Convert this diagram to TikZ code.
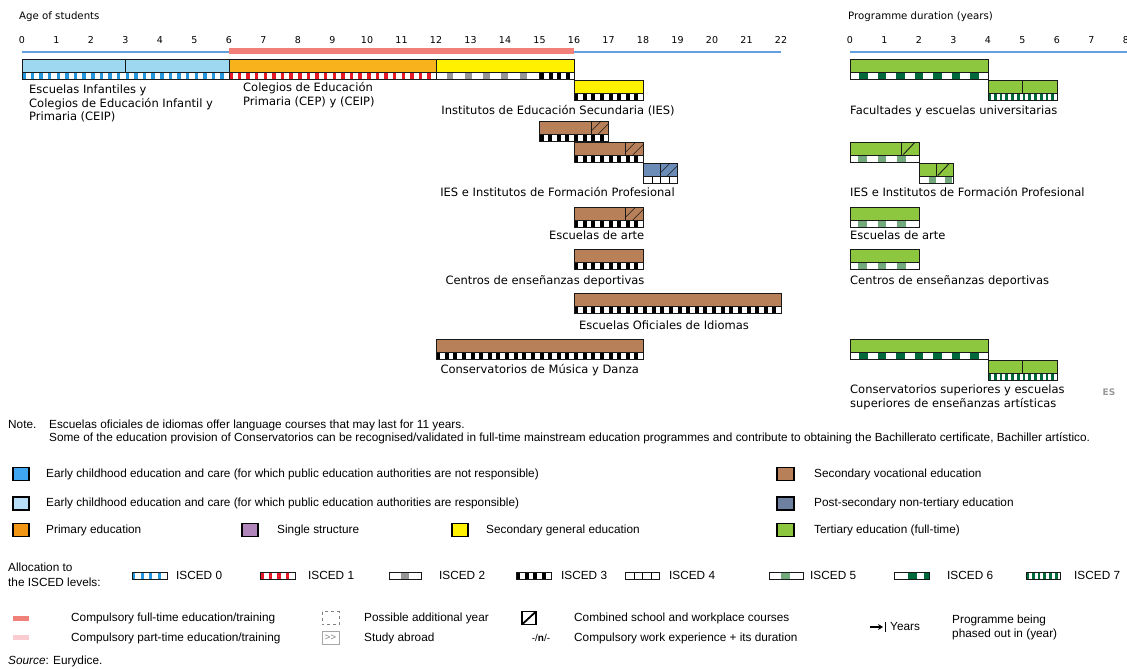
\documentclass[tikz,border=0pt]{standalone}
\usepackage{fontspec}
\setmainfont{Liberation Sans}
\newfontfamily\dvs{DejaVu Sans}
\usetikzlibrary{arrows.meta}
\definecolor{eceresp}{RGB}{157,216,240}
\definecolor{ecereslg}{RGB}{185,222,248}
\definecolor{ecnr}{RGB}{64,166,240}
\definecolor{prim}{RGB}{247,178,28}
\definecolor{primlg}{RGB}{240,150,20}
\definecolor{secgen}{RGB}{255,241,0}
\definecolor{voc}{RGB}{184,128,88}
\definecolor{psnt}{RGB}{108,140,184}
\definecolor{psntlg}{RGB}{110,128,160}
\definecolor{tert}{RGB}{141,198,63}
\definecolor{single}{RGB}{176,134,186}
\definecolor{compft}{RGB}{240,128,120}
\definecolor{comppt}{RGB}{248,204,208}
\definecolor{axblue}{RGB}{100,160,225}
\definecolor{isc0}{RGB}{35,150,220}
\definecolor{isc1}{RGB}{230,25,40}
\definecolor{isc2}{RGB}{150,150,150}
\definecolor{isc5}{RGB}{115,170,125}
\definecolor{isc6}{RGB}{0,105,60}
\tikzset{
 barline/.style={draw=black!90, line width=0.9pt},
 hatchline/.style={draw=black!90, line width=0.6pt},
 lbl/.style={font=\dvs\fontsize{11.5}{13}\selectfont, inner sep=0pt, text height=8.5pt, text depth=2.5pt},
 num/.style={font=\dvs\fontsize{9.5}{11}\selectfont, inner sep=0pt},
 axt/.style={font=\dvs\fontsize{10.2}{12}\selectfont, inner sep=0pt, anchor=west},
 leg/.style={font=\fontsize{11.8}{14}\selectfont, inner sep=0pt, text height=8.5pt, text depth=2.5pt, anchor=west},
 legbox/.style={draw=black, line width=1.2pt},
 axisline/.style={draw=axblue, line width=1.5pt},
}
% main coloured part of a bar: x0, x1, top, colour
\newcommand{\mbar}[4]{\path[barline,fill=#4] (#1,#3) rectangle (#2,#3+13);}
% ISCED stripe: x0, x1, top, colour, period, block width, phase, number of blocks
\newcommand{\isc}[8]{%
 \begin{scope}
 \clip (#1,#3) rectangle (#2,#3+7);
 \fill[white] (#1,#3) rectangle (#2,#3+7);
 \foreach \k in {1,...,#8}{\fill[#4] ({#1+#7+(\k-1)*#5},#3) rectangle ++(#6,7);}
 \end{scope}
 \draw[barline] (#1,#3) rectangle (#2,#3+7);}
\newcommand{\hatchtwo}[3]{%
 \begin{scope}\clip (#1,#3) rectangle (#2,#3+13);
 \draw[hatchline] (#1-3,#3+13) -- ++(14,-14) (#1+7,#3+13) -- ++(14,-14);
 \end{scope}
 \draw[barline] (#1,#3) -- (#1,#3+13);}
\newcommand{\hatchone}[3]{%
 \draw[barline] (#1+1.5,#3+12.5) -- ++(11.5,-12);
 \draw[barline] (#1,#3) -- (#1,#3+13);}
\begin{document}
\begin{tikzpicture}[x=1pt,y=-1pt]
\useasboundingbox (0,0) rectangle (1127,669);
\fill[white] (0,0) rectangle (1127,669);
% ---------- axes
\node[axt] (agetitle) at (19,17) {Age of students};
\node[axt] (durtitle) at (848,17) {Programme duration (years)};
\foreach \a in {0,...,22}{\node[num] (age\a) at (22+34.5*\a,40) {\a};}
\foreach \d in {0,...,8}{\node[num] (dur\d) at (850+34.5*\d,40) {\d};}
\draw[axisline] (22,52) -- (781,52);
\fill[compft] (229,48.5) rectangle (574,54.5);
\draw[axisline] (850,52) -- (1127,52);
% ---------- age bars
\mbar{22}{125.5}{59}{eceresp}
\mbar{125.5}{229}{59}{eceresp}
\mbar{229}{436}{59}{prim}
\mbar{436}{574}{59}{secgen}
\isc{22}{229}{72}{isc0}{8.625}{3.5}{0}{24}
\isc{229}{436}{72}{isc1}{8.625}{3.5}{0}{24}
\isc{436}{539.5}{72}{isc2}{18.33}{6.7}{10.5}{5}
\isc{539.5}{574}{72}{black}{8.625}{4}{0.5}{4}
\mbar{574}{643}{80}{secgen}
\isc{574}{643}{93}{black}{8.625}{4}{0}{8}
\mbar{539.5}{608.5}{121}{voc}
\hatchtwo{591.25}{608.5}{121}
\isc{539.5}{608.5}{134}{black}{8.625}{4}{0}{8}
\mbar{574}{643}{142}{voc}
\hatchtwo{625.75}{643}{142}
\isc{574}{643}{155}{black}{8.625}{4}{0}{8}
\mbar{643}{677.5}{163}{psnt}
\hatchtwo{660.25}{677.5}{163}
\isc{643}{677.5}{176}{black}{8.625}{1.2}{0}{4}
\mbar{574}{643}{207}{voc}
\hatchtwo{625.75}{643}{207}
\isc{574}{643}{220}{black}{8.625}{4}{0}{8}
\mbar{574}{643}{249}{voc}
\isc{574}{643}{262}{black}{8.625}{4}{0}{8}
\mbar{574}{781}{293}{voc}
\isc{574}{781}{306}{black}{8.625}{4}{0}{24}
\mbar{436}{643}{339}{voc}
\isc{436}{643}{352}{black}{8.625}{4}{0}{24}
% ---------- duration bars
\mbar{850}{988}{59}{tert}
\isc{850}{988}{72}{isc6}{18.45}{8.7}{9.3}{7}
\mbar{988}{1022.5}{80}{tert}
\mbar{1022.5}{1057}{80}{tert}
\isc{988}{1057}{93}{isc6}{5.75}{2.8}{0}{12}
\mbar{850}{919}{142}{tert}
\hatchone{901.75}{919}{142}
\isc{850}{919}{155}{isc5}{19.5}{8.5}{8}{3}
\mbar{919}{953.5}{163}{tert}
\hatchone{936.25}{953.5}{163}
\isc{919}{953.5}{176}{isc5}{16}{7}{10}{2}
\mbar{850}{919}{207}{tert}
\isc{850}{919}{220}{isc5}{19.5}{8.5}{8}{3}
\mbar{850}{919}{249}{tert}
\isc{850}{919}{262}{isc5}{19.5}{8.5}{8}{3}
\mbar{850}{988}{339}{tert}
\isc{850}{988}{352}{isc6}{18.45}{8.7}{9.3}{7}
\mbar{988}{1022.5}{360}{tert}
\mbar{1022.5}{1057}{360}{tert}
\isc{988}{1057}{373}{isc6}{5.75}{2.8}{0}{12}
% ---------- labels
\node[lbl,anchor=west] (l1a) at (29,90) {Escuelas Infantiles y};
\node[lbl,anchor=west] (l1b) at (29,104) {Colegios de Educación Infantil y};
\node[lbl,anchor=west] (l1c) at (29,117) {Primaria (CEIP)};
\node[lbl,anchor=west] (l2a) at (243,89) {Colegios de Educación};
\node[lbl,anchor=west] (l2b) at (243,102) {Primaria (CEP) y (CEIP)};
\node[lbl] (l3) at (558,111) {Institutos de Educación Secundaria (IES)};
\node[lbl] (l4) at (557.5,193) {IES e Institutos de Formación Profesional};
\node[lbl] (l5) at (596.7,236) {Escuelas de arte};
\node[lbl] (l6) at (545,281) {Centros de enseñanzas deportivas};
\node[lbl] (l7) at (664,326) {Escuelas Oficiales de Idiomas};
\node[lbl] (l8) at (539.7,370) {Conservatorios de Música y Danza};
\node[lbl,anchor=west] (r1) at (850,111) {Facultades y escuelas universitarias};
\node[lbl,anchor=west] (r2) at (850,193) {IES e Institutos de Formación Profesional};
\node[lbl,anchor=west] (r3) at (850,236) {Escuelas de arte};
\node[lbl,anchor=west] (r4) at (850,281) {Centros de enseñanzas deportivas};
\node[lbl,anchor=west] (r5a) at (850,390) {Conservatorios superiores y escuelas};
\node[lbl,anchor=west] (r5b) at (850,404) {superiores de enseñanzas artísticas};
\node[font=\dvs\bfseries\fontsize{9}{10}\selectfont, text=black!40, inner sep=0pt] (es) at (1109,392) {ES};
% ---------- note
\node[leg] (note) at (8,425) {Note.};
\node[leg] (note1) at (49,425) {Escuelas oficiales de idiomas offer language courses that may last for 11 years.};
\node[leg] (note2) at (49,438) {Some of the education provision of Conservatorios can be recognised/validated in full-time mainstream education programmes and contribute to obtaining the Bachillerato certificate, Bachiller artístico.};
% ---------- legend
\path[legbox,fill=ecnr] (13,467.5) rectangle (29,480.5);
\node[leg] (lg1) at (46,474) {Early childhood education and care (for which public education authorities are not responsible)};
\path[legbox,fill=ecereslg] (13,497) rectangle (29,510);
\node[leg] (lg2) at (46,503.5) {Early childhood education and care (for which public education authorities are responsible)};
\path[legbox,fill=primlg] (13,523.5) rectangle (29,536.5);
\node[leg] (lg3) at (46,530) {Primary education};
\path[legbox,fill=single] (242,523.5) rectangle (258,536.5);
\node[leg] (lg4) at (277,530) {Single structure};
\path[legbox,fill=secgen] (452,523.5) rectangle (468,536.5);
\node[leg] (lg5) at (486,530) {Secondary general education};
\path[legbox,fill=voc] (777,467.5) rectangle (794,480.5);
\node[leg] (lg6) at (814,474) {Secondary vocational education};
\path[legbox,fill=psntlg] (777,497) rectangle (794,510);
\node[leg] (lg7) at (814,503.5) {Post-secondary non-tertiary education};
\path[legbox,fill=tert] (777,523.5) rectangle (794,536.5);
\node[leg] (lg8) at (814,530) {Tertiary education (full-time)};
% ISCED
\node[leg] (alloc1) at (8,568) {Allocation to};
\node[leg] (alloc2) at (8,583) {the ISCED levels:};
\isc{132}{167}{572.5}{isc0}{8.625}{3}{0}{5}
\node[leg] (i0) at (176,576) {ISCED 0};
\isc{260}{295}{572.5}{isc1}{8.625}{3.5}{0}{5}
\node[leg] (i1) at (308,576) {ISCED 1};
\isc{389}{421}{572.5}{isc2}{100}{8}{12}{1}
\node[leg] (i2) at (439,576) {ISCED 2};
\isc{516}{551}{572.5}{black}{8.625}{4}{0}{5}
\node[leg] (i3) at (561,576) {ISCED 3};
\isc{625}{659}{572.5}{black}{8.5}{1.2}{0}{4}
\node[leg] (i4) at (669,576) {ISCED 4};
\isc{769}{803}{572.5}{isc5}{100}{9}{12}{1}
\node[leg] (i5) at (810,576) {ISCED 5};
\isc{894}{929}{572.5}{isc6}{16}{9}{14}{2}
\node[leg] (i6) at (947,576) {ISCED 6};
\isc{1026}{1060}{572.5}{isc6}{5.75}{2.8}{0}{6}
\node[leg] (i7) at (1074,576) {ISCED 7};
% bottom rows
\fill[compft] (13,616) rectangle (29,621);
\node[leg] (cft) at (71,618) {Compulsory full-time education/training};
\fill[comppt] (13,635) rectangle (29,640);
\node[leg] (cpt) at (71,638) {Compulsory part-time education/training};
\draw[gray, dashed, line width=0.6pt] (322,611.5) rectangle (339,624.5);
\node[leg] (pay) at (364,618) {Possible additional year};
\draw[gray!70, line width=0.6pt] (322,631) rectangle (339,644);
\node[font=\fontsize{9.5}{10}\selectfont, text=gray, inner sep=0pt] (sab) at (330.5,637.5) {\char`>\kern0.3pt\char`>};
\node[leg] (sabt) at (364,638) {Study abroad};
\draw[legbox] (522,611.5) rectangle (536,624.5);
\draw[line width=1.8pt] (522,624.5) -- (536,611.5);
\node[leg] (comb) at (574,618) {Combined school and workplace courses};
\node[font=\fontsize{10}{11}\selectfont, inner sep=0pt] (cwe) at (541,638) {-/\textbf{n}/-};
\node[leg] (cwet) at (574,638) {Compulsory work experience + its duration};
\draw[line width=1.5pt, -{Stealth[length=5pt,width=6pt]}] (870,627) -- (883,627);
\draw[line width=1.5pt] (885.5,622) -- (885.5,632);
\node[leg] (yrs) at (890,627) {Years};
\node[leg] (pb1) at (952,620) {Programme being};
\node[leg] (pb2) at (952,634) {phased out in (year)};
\node[leg] (src) at (8,661) {\textit{Source}: Eurydice.};
\end{tikzpicture}
\end{document}
